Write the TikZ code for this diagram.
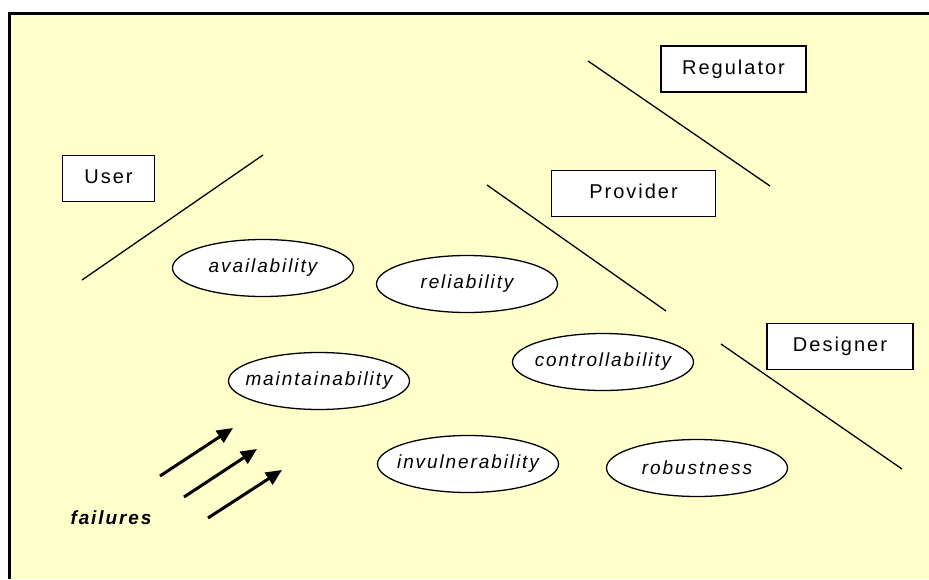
\documentclass[tikz,border=0pt]{standalone}
\usepackage{fontspec}
\setmainfont{Liberation Sans}
\newfontfamily\spacedfont[LetterSpace=10]{Liberation Sans}
\usetikzlibrary{shapes.geometric,arrows.meta}
\definecolor{paper}{HTML}{FFFFCC}
% label that does not widen the ellipse around it
\newcommand{\attrtext}[1]{\hbox to 0pt{\hss#1\hss}}
\tikzset{
  role/.style={draw=black, line width=1.3pt, fill=white, inner sep=0pt,
    minimum height=46pt, text height=14.4pt, text depth=4.2pt,
    font=\spacedfont\fontsize{20}{24}\selectfont},
  quality/.style={draw=black, line width=1.3pt, fill=white, ellipse, inner sep=0pt,
    minimum width=181pt, minimum height=57pt,
    font=\spacedfont\itshape\fontsize{19}{23}\selectfont},
  divider/.style={line width=1.3pt, black},
  hit/.style={line width=3pt, -{Triangle[length=16pt,width=14pt]}}
}
\begin{document}
\begin{tikzpicture}[x=1pt,y=-1pt]
\useasboundingbox (0,0) rectangle (929,579);
% sheet with a heavy frame along the left and top
\fill[paper] (9.5,13) rectangle (929,579);
\draw[line width=3pt] (9.5,579) -- (9.5,13) -- (929,13);

% stakeholder boxes
\node[role, minimum width=145pt] (regulator) at (733.5,69) {Regulator};
\node[role, minimum width=92pt]  (user)      at (108.5,178.5) {User};
\node[role, minimum width=164pt] (provider)  at (633.5,193.5) {Provider};
\node[role, minimum width=146pt] (designer)  at (840,346.5) {Designer};

% dividing strokes
\draw[divider] (588,61) -- (770,186);
\draw[divider] (82,280) -- (263,155);
\draw[divider] (487,185) -- (666,311);
\draw[divider] (721,344) -- (902,469);

% dependability attributes
\node[quality] (availability)    at (263,268) {\attrtext{availability}};
\node[quality] (reliability)     at (467,284) {\attrtext{reliability}};
\node[quality] (controllability) at (603,362) {\attrtext{controllability}};
\node[quality] (maintainability) at (319,381) {\attrtext{maintainability}};
\node[quality] (invulnerability) at (468,464) {\attrtext{invulnerability}};
\node[quality] (robustness)      at (697,468) {\attrtext{robustness}};

% incoming failures
\node[font=\spacedfont\bfseries\itshape\fontsize{19}{23}\selectfont] (failures) at (111,518) {failures};
\coordinate (f1s) at (160,476); \coordinate (f1e) at (233,428);
\coordinate (f2s) at (184,497); \coordinate (f2e) at (257,449);
\coordinate (f3s) at (208,518); \coordinate (f3e) at (282,470);
\draw[hit] (f1s) -- (f1e);
\draw[hit] (f2s) -- (f2e);
\draw[hit] (f3s) -- (f3e);
\end{tikzpicture}
\end{document}
